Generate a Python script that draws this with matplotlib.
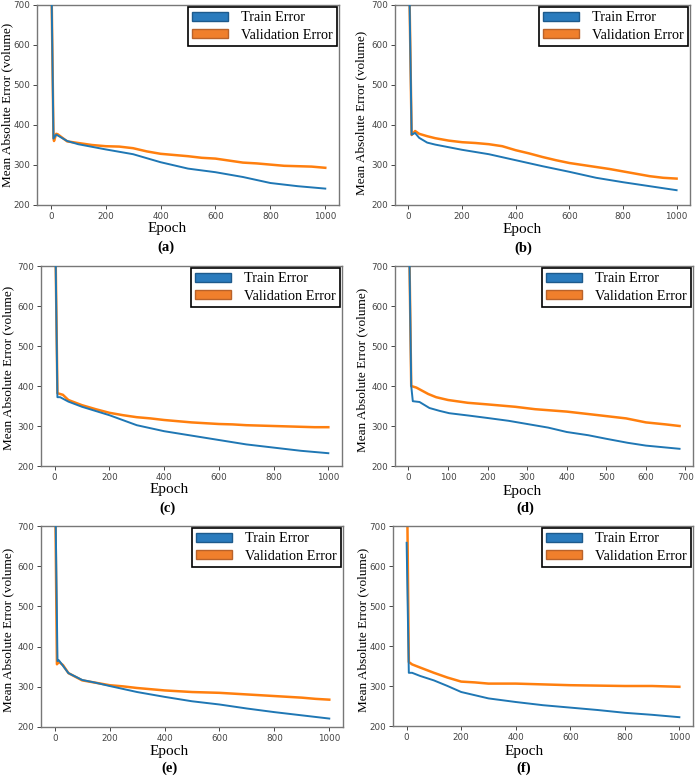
import matplotlib
matplotlib.use("Agg")
import matplotlib.pyplot as plt
from matplotlib.patches import Patch

# ---------------- data ----------------
panel_tags = ["(a)", "(b)", "(c)", "(d)", "(e)", "(f)"]
series_names = ["Train Error", "Validation Error"]
y_ticks = [200, 300, 400, 500, 600, 700]
x_ticks_1000 = [0, 200, 400, 600, 800, 1000]
x_ticks_700 = [0, 100, 200, 300, 400, 500, 600, 700]

# (a)
a_train_ep = [0, 10, 20, 25, 60, 100, 200, 300, 400, 500, 600, 700, 800, 900, 1000]
a_train = [900, 366, 376, 374, 360, 352, 339, 327, 307, 291, 282, 270, 255, 247, 241]
a_val_ep = [0, 10, 12, 20, 25, 60, 100, 150, 200, 250, 300, 350, 400, 450, 500, 550, 600, 650, 700, 750, 800, 850, 900, 950, 1000]
a_val = [900, 368, 360, 378, 377, 359, 355, 350, 347, 346, 342, 334, 328, 325, 322, 318, 316, 311, 306, 304, 301, 298, 297, 296, 293]

# (b)
b_train_ep = [0, 12, 25, 40, 70, 100, 200, 300, 400, 500, 600, 700, 800, 900, 1000]
b_train = [900, 376, 380, 368, 356, 351, 338, 327, 312, 297, 283, 268, 257, 247, 237]
b_val_ep = [0, 12, 25, 40, 70, 100, 150, 200, 250, 300, 350, 400, 450, 500, 550, 600, 650, 700, 750, 800, 850, 900, 950, 1000]
b_val = [900, 375, 385, 378, 372, 367, 361, 357, 355, 352, 347, 337, 329, 320, 312, 305, 300, 295, 290, 284, 278, 272, 268, 266]

# (c)
c_train_ep = [0, 10, 20, 50, 100, 200, 300, 400, 500, 600, 700, 800, 900, 1000]
c_train = [900, 372, 372, 361, 348, 327, 302, 287, 276, 265, 254, 246, 238, 232]
c_val_ep = [0, 10, 30, 50, 100, 150, 200, 250, 300, 350, 400, 450, 500, 550, 600, 650, 700, 750, 800, 850, 900, 950, 1000]
c_val = [900, 382, 378, 365, 352, 342, 333, 327, 322, 319, 315, 312, 309, 307, 305, 304, 302, 301, 300, 299, 298, 297, 297]

# (d)
d_train_ep = [0, 7, 11, 28, 53, 78, 103, 153, 200, 253, 300, 353, 400, 454, 500, 554, 600, 685]
d_train = [900, 400, 362, 360, 345, 338, 332, 326, 320, 313, 305, 296, 285, 277, 268, 258, 251, 243]
d_val_ep = [0, 7, 20, 50, 70, 100, 150, 200, 270, 320, 400, 480, 550, 600, 650, 685]
d_val = [900, 400, 396, 380, 372, 365, 358, 354, 348, 342, 336, 327, 319, 309, 304, 300]

# (e)
e_train_ep = [0, 10, 15, 50, 100, 150, 200, 300, 400, 500, 600, 700, 800, 900, 1000]
e_train = [900, 364, 366, 334, 317, 310, 302, 287, 275, 264, 256, 246, 237, 229, 221]
e_val_ep = [0, 8, 15, 30, 50, 100, 150, 200, 250, 300, 350, 400, 450, 500, 550, 600, 650, 700, 750, 800, 850, 900, 950, 1000]
e_val = [900, 356, 362, 354, 334, 316, 310, 304, 301, 297, 294, 291, 289, 287, 286, 285, 283, 281, 279, 277, 275, 273, 270, 268]

# (f)
f_train_ep = [0, 8, 20, 50, 100, 150, 200, 300, 400, 500, 600, 700, 800, 900, 1000]
f_train = [658, 333, 333, 325, 314, 300, 285, 269, 260, 252, 246, 240, 233, 228, 222]
f_val_ep = [0, 8, 20, 50, 100, 150, 200, 250, 300, 400, 500, 600, 700, 800, 900, 1000]
f_val = [900, 360, 354, 346, 333, 321, 311, 309, 306, 306, 304, 302, 301, 300, 300, 298]

panels = [
    (a_train_ep, a_train, a_val_ep, a_val, x_ticks_1000, (-50, 1050)),
    (b_train_ep, b_train, b_val_ep, b_val, x_ticks_1000, (-50, 1050)),
    (c_train_ep, c_train, c_val_ep, c_val, x_ticks_1000, (-50, 1050)),
    (d_train_ep, d_train, d_val_ep, d_val, x_ticks_700, (-34, 719)),
    (e_train_ep, e_train, e_val_ep, e_val, x_ticks_1000, (-50, 1050)),
    (f_train_ep, f_train, f_val_ep, f_val, x_ticks_1000, (-50, 1050)),
]

# ---------------- layout (pixels) ----------------
W, H = 700, 781
# left, right, top, bottom of each axes box
boxes = [(37, 339, 5, 205), (395, 690, 5, 205),
         (41, 342, 266, 466), (395, 693, 266, 466),
         (41, 343, 526, 727), (393, 693, 526, 726)]
ylabel_xy = [(7, 105), (361, 113), (8, 368), (362, 370), (8, 630), (363, 630)]
epoch_xy = [(167, 228), (522, 229), (169, 490), (522, 491), (169, 752), (524, 752)]
tag_xy = [(166, 247), (523, 248), (168, 508), (525, 508), (170, 768), (524, 768)]

BLUE = "#1f77b4"
ORANGE = "#ff7f0e"
SERIF = ["Liberation Serif", "DejaVu Serif"]

fig = plt.figure(figsize=(W / 100, H / 100), dpi=100)

for i, (tx, ty, vx, vy, xt, xl) in enumerate(panels):
    l, r, t, b = boxes[i]
    ax = fig.add_axes([l / W, 1 - b / H, (r - l) / W, (b - t) / H])
    ax.plot(tx, ty, color=BLUE, lw=1.4, zorder=3)
    ax.plot(vx, vy, color=ORANGE, lw=1.8, zorder=2)
    ax.set_xlim(*xl)
    ax.set_ylim(200, 700)
    ax.set_xticks(xt)
    ax.set_yticks(y_ticks)
    ax.tick_params(labelsize=6.3, colors="#444444", length=3, width=0.7, pad=2)
    for s in ax.spines.values():
        s.set_color("#777777")
        s.set_linewidth(1.0)
    handles = [Patch(facecolor="#2a7bbd", edgecolor="#1d5a8c", lw=1.0),
               Patch(facecolor="#f07f2c", edgecolor="#b9622a", lw=1.0)]
    leg = ax.legend(handles, series_names, loc="upper right",
                    prop={"family": SERIF, "size": 10.3},
                    fancybox=False, framealpha=1, edgecolor="black",
                    handlelength=2.5, handleheight=0.6, handletextpad=0.9,
                    borderpad=0.3, labelspacing=0.3, borderaxespad=0.15)
    leg.get_frame().set_linewidth(1.2)

    fig.text(ylabel_xy[i][0] / W, 1 - ylabel_xy[i][1] / H,
             "Mean Absolute Error (volume)", rotation=90,
             ha="center", va="center", family=SERIF, fontsize=9.5)
    fig.text(epoch_xy[i][0] / W, 1 - epoch_xy[i][1] / H, "Epoch",
             ha="center", va="center", family=SERIF, fontsize=11)
    fig.text(tag_xy[i][0] / W, 1 - tag_xy[i][1] / H, panel_tags[i],
             ha="center", va="center", family=SERIF, fontsize=10.5,
             fontweight="bold")

fig.savefig("out.png", dpi=100)
